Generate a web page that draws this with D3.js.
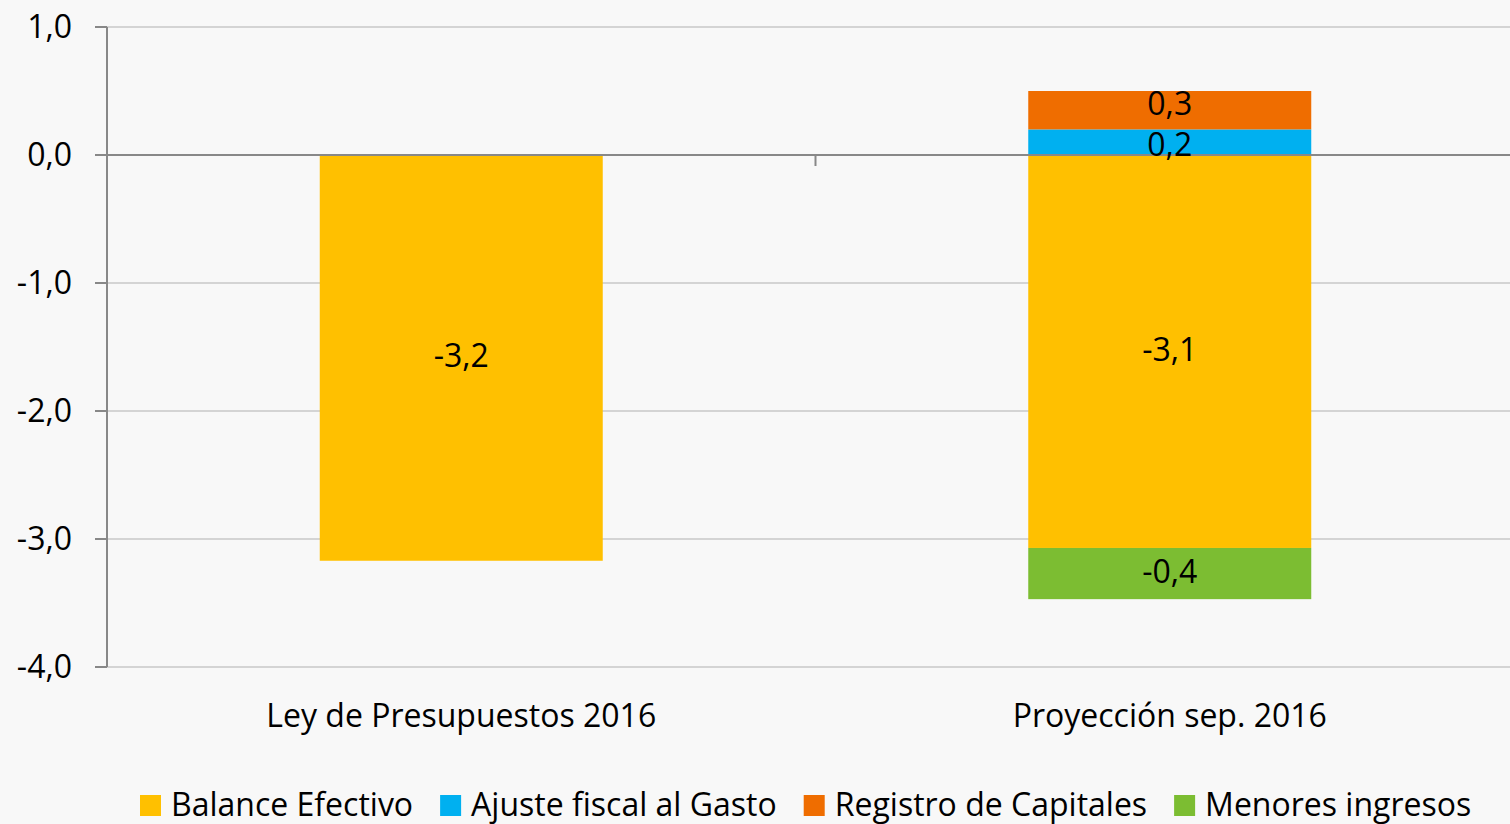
<!DOCTYPE html>
<html>
<head>
<meta charset="utf-8">
<script src="https://cdn.jsdelivr.net/npm/d3@7"></script>
<style>
  body { margin: 0; background: #f8f8f8; }
  svg { display: block; font-family: 'Open Sans', sans-serif; }
</style>
</head>
<body>
<svg id="chart"></svg>
<script>
const categories = ['Ley de Presupuestos 2016', 'Proyección sep. 2016'];
const seriesNames = ['Balance Efectivo', 'Ajuste fiscal al Gasto', 'Registro de Capitales', 'Menores ingresos'];
const balanceEfectivo = [-3.17, -3.07];
const ajusteFiscal = [0, 0.2];
const registroCapitales = [0, 0.3];
const menoresIngresos = [0, -0.4];
const yTicks = [1, 0, -1, -2, -3, -4];
const colors = ['#FFC000', '#00B0F0', '#EF6D00', '#7CBD32'];

const width = 1510, height = 824;
const margin = { top: 27, right: -14, bottom: 157, left: 107 };

const svg = d3.select('#chart').attr('width', width).attr('height', height);

// build rows for the stack
const rows = categories.map((c, i) => ({
  cat: c,
  'Balance Efectivo': balanceEfectivo[i],
  'Ajuste fiscal al Gasto': ajusteFiscal[i],
  'Registro de Capitales': registroCapitales[i],
  'Menores ingresos': menoresIngresos[i]
}));

const stacked = d3.stack().keys(seriesNames).offset(d3.stackOffsetDiverging)(rows);

const x = d3.scaleBand().domain(categories)
  .range([margin.left, width - margin.right]).paddingInner(0).paddingOuter(0);
const y = d3.scaleLinear().domain([-4, 1]).range([height - margin.bottom, margin.top]);
const color = d3.scaleOrdinal().domain(seriesNames).range(colors);
const fmt = v => d3.format('.1f')(v).replace('.', ',').replace('−', '-');
const fs = 32;

// gridlines
svg.append('g').selectAll('line').data(yTicks.filter(t => t !== 0)).join('line')
  .attr('x1', margin.left).attr('x2', width)
  .attr('y1', d => y(d)).attr('y2', d => y(d))
  .attr('stroke', '#c8c8c8').attr('stroke-width', 1.5);

// bars
const barW = 283;
svg.append('g').selectAll('g').data(stacked).join('g')
  .attr('fill', d => color(d.key))
  .selectAll('rect').data(d => d.filter(s => s[1] - s[0] !== 0)).join('rect')
  .attr('x', d => x(d.data.cat) + x.bandwidth() / 2 - barW / 2)
  .attr('width', barW)
  .attr('y', d => y(d[1]))
  .attr('height', d => y(d[0]) - y(d[1]));

// y axis
svg.append('line').attr('x1', margin.left).attr('x2', margin.left)
  .attr('y1', y(1)).attr('y2', y(-4)).attr('stroke', '#888').attr('stroke-width', 2);
svg.append('g').selectAll('line').data(yTicks).join('line')
  .attr('x1', 95).attr('x2', margin.left)
  .attr('y1', d => y(d)).attr('y2', d => y(d))
  .attr('stroke', '#888').attr('stroke-width', 2);
svg.append('g').selectAll('text').data(yTicks).join('text')
  .attr('x', 72).attr('y', d => y(d)).attr('dy', '0.35em')
  .attr('text-anchor', 'end').attr('font-size', fs).attr('fill', '#000')
  .text(d => fmt(d));

// zero axis
svg.append('line').attr('x1', margin.left).attr('x2', width)
  .attr('y1', y(0)).attr('y2', y(0)).attr('stroke', '#888').attr('stroke-width', 2);
svg.append('line').attr('x1', x(categories[1])).attr('x2', x(categories[1]))
  .attr('y1', y(0)).attr('y2', y(0) + 11).attr('stroke', '#888').attr('stroke-width', 2);

// category labels
svg.append('g').selectAll('text').data(categories).join('text')
  .attr('x', d => x(d) + x.bandwidth() / 2).attr('y', 716).attr('dy', '0.35em')
  .attr('text-anchor', 'middle').attr('font-size', fs).attr('fill', '#000')
  .text(d => d);

// value labels, centred in each segment
const labels = [];
stacked.forEach(s => s.forEach((d, i) => {
  const v = rows[i][s.key];
  if (v !== 0) labels.push({ cat: rows[i].cat, py: y((d[0] + d[1]) / 2), v: v });
}));
// push apart labels in the same bar that sit too close
const minGap = 41;
categories.forEach(c => {
  const ls = labels.filter(l => l.cat === c).sort((a, b) => a.py - b.py);
  for (let i = 1; i < ls.length; i++) {
    const gap = ls[i].py - ls[i - 1].py;
    if (gap < minGap) {
      const shift = (minGap - gap) / 2;
      ls[i - 1].py -= shift;
      ls[i].py += shift;
    }
  }
});
svg.append('g').selectAll('text').data(labels).join('text')
  .attr('x', d => x(d.cat) + x.bandwidth() / 2)
  .attr('y', d => d.py).attr('dy', '0.3em')
  .attr('text-anchor', 'middle').attr('font-size', fs).attr('fill', '#000')
  .text(d => fmt(d.v));

// legend
const legend = svg.append('g');
let lx = 140;
seriesNames.forEach((n, i) => {
  legend.append('rect').attr('x', lx).attr('y', 795).attr('width', 21).attr('height', 21)
    .attr('fill', colors[i]);
  const t = legend.append('text').attr('x', lx + 31).attr('y', 805).attr('dy', '0.35em')
    .attr('font-size', fs).attr('fill', '#000').text(n);
  lx += 31 + t.node().getComputedTextLength() + 27;
});
</script>
</body>
</html>
